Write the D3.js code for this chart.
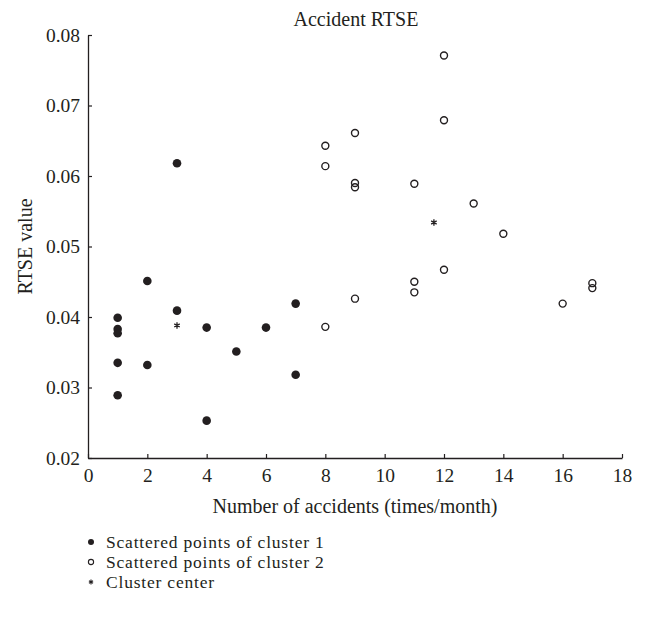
<!DOCTYPE html>
<html>
<head>
<meta charset="utf-8">
<script src="https://cdn.jsdelivr.net/npm/d3@7"></script>
<style>
  html, body { margin: 0; padding: 0; background: #fff; }
  svg { display: block; font-family: "Liberation Serif", "DejaVu Serif", serif; }
</style>
</head>
<body>
<svg id="chart" width="646" height="620"></svg>
<script>
// Cluster 1: accidents per month and RTSE value
const cluster1X = [1, 1, 1, 1, 1, 2, 2, 3, 3, 4, 4, 5, 6, 7, 7];
const cluster1Y = [0.0399, 0.0383, 0.0377, 0.0335, 0.0289, 0.0451, 0.0332, 0.0618, 0.0409, 0.0385, 0.0253, 0.0351, 0.0385, 0.0419, 0.0318];

// Cluster 2
const cluster2X = [8, 8, 8, 9, 9, 9, 9, 11, 11, 11, 12, 12, 12, 13, 14, 16, 17, 17];
const cluster2Y = [0.0643, 0.0614, 0.0386, 0.0661, 0.0590, 0.0584, 0.0426, 0.0589, 0.0450, 0.0435, 0.0771, 0.0679, 0.0467, 0.0561, 0.0518, 0.0419, 0.0448, 0.0441];

// Cluster centres
const centerX = [3, 11.66];
const centerY = [0.0388, 0.0534];

const xTicks = [0, 2, 4, 6, 8, 10, 12, 14, 16, 18];
const yTicks = [0.02, 0.03, 0.04, 0.05, 0.06, 0.07, 0.08];

const legendLabels = ["Scattered points of cluster 1", "Scattered points of cluster 2", "Cluster center"];

const svg = d3.select("#chart");
const ink = "#231f20";

const x = d3.scaleLinear().domain([0, 18]).range([88, 622]);
const y = d3.scaleLinear().domain([0.02, 0.08]).range([458, 35]);

// Axes with inward ticks
const xAxis = d3.axisBottom(x).tickValues(xTicks).tickSize(-4).tickSizeOuter(0).tickPadding(9).tickFormat(d3.format("d"));
const yAxis = d3.axisLeft(y).tickValues(yTicks).tickSize(-4).tickSizeOuter(0).tickPadding(8).tickFormat(d3.format(".2f"));

const gx = svg.append("g").attr("transform", `translate(0,${y(0.02)})`).call(xAxis);
const gy = svg.append("g").attr("transform", `translate(${x(0)},0)`).call(yAxis);

[gx, gy].forEach(g => {
  g.select(".domain").attr("stroke", ink).attr("stroke-width", 1.3);
  g.selectAll(".tick line").attr("stroke", ink).attr("stroke-width", 1.2);
  g.selectAll(".tick text").attr("fill", ink).style("font-size", "19.5px").style("font-family", "Liberation Serif, serif");
});
gx.selectAll(".tick text").attr("dy", null).attr("y", null).attr("transform", "translate(0,24)");

// Title and axis labels
svg.append("text").attr("x", 356).attr("y", 26).attr("text-anchor", "middle")
  .attr("fill", ink).style("font-size", "20px").text("Accident RTSE");

svg.append("text").attr("x", 355).attr("y", 513).attr("text-anchor", "middle")
  .attr("fill", ink).style("font-size", "20px").text("Number of accidents (times/month)");

svg.append("text").attr("transform", `translate(32,${y(0.05)}) rotate(-90)`)
  .attr("text-anchor", "middle").attr("fill", ink).style("font-size", "20px").text("RTSE value");

// Points
const plot = svg.append("g");

plot.selectAll("circle.c1").data(d3.range(cluster1X.length)).join("circle")
  .attr("class", "c1")
  .attr("cx", i => x(cluster1X[i])).attr("cy", i => y(cluster1Y[i]))
  .attr("r", 4.3).attr("fill", ink);

plot.selectAll("circle.c2").data(d3.range(cluster2X.length)).join("circle")
  .attr("class", "c2")
  .attr("cx", i => x(cluster2X[i])).attr("cy", i => y(cluster2Y[i]))
  .attr("r", 3.5).attr("fill", "none").attr("stroke", ink).attr("stroke-width", 1.4);

const star = d3.symbol().type(d3.symbolAsterisk).size(28);
plot.selectAll("path.center").data(d3.range(centerX.length)).join("path")
  .attr("class", "center")
  .attr("transform", i => `translate(${x(centerX[i])},${y(centerY[i])})`)
  .attr("d", star).attr("fill", "none").attr("stroke", ink).attr("stroke-width", 1.3);

// Legend
const legendRowY = d3.scalePoint().domain(legendLabels).range([542, 582]);
const legend = svg.append("g");
legendLabels.forEach((label, i) => {
  const ly = legendRowY(label);
  if (i === 0) {
    legend.append("circle").attr("cx", 91).attr("cy", ly).attr("r", 3).attr("fill", ink);
  } else if (i === 1) {
    legend.append("circle").attr("cx", 91).attr("cy", ly).attr("r", 2.6).attr("fill", "none").attr("stroke", ink).attr("stroke-width", 1.1);
  } else {
    legend.append("path").attr("transform", `translate(91,${ly})`)
      .attr("d", d3.symbol().type(d3.symbolAsterisk).size(16)).attr("fill", "none").attr("stroke", ink).attr("stroke-width", 1.1);
  }
  legend.append("text").attr("x", 106).attr("y", ly).attr("dy", "0.35em")
    .attr("fill", ink).style("font-size", "17.5px").style("letter-spacing", "0.8px").text(label);
});
</script>
</body>
</html>
